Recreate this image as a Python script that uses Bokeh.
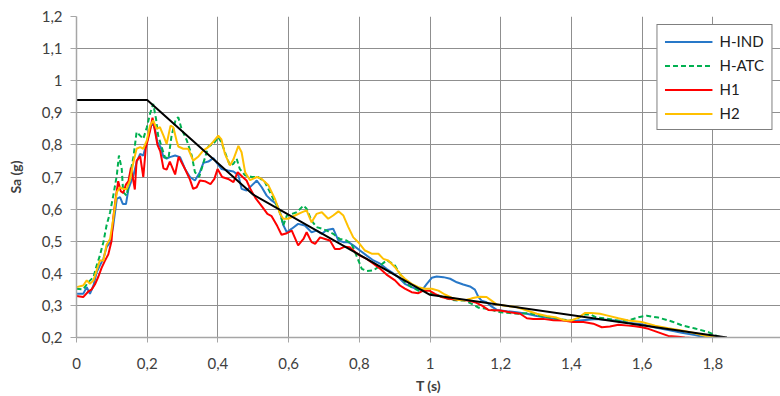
from bokeh.plotting import figure
from bokeh.models import Range1d, FixedTicker, CustomJSTickFormatter, Legend, LegendItem
from bokeh.embed import file_html
from bokeh.resources import INLINE

# ---------------- data ----------------
x_ticks = [0, 0.2, 0.4, 0.6, 0.8, 1.0, 1.2, 1.4, 1.6, 1.8, 2.0]
y_ticks = [0.2, 0.3, 0.4, 0.5, 0.6, 0.7, 0.8, 0.9, 1.0, 1.1, 1.2]

series_names = ["H-IND", "H-ATC", "H1", "H2"]

t_hind = [0.000, 0.019, 0.029, 0.038, 0.048, 0.057, 0.066, 0.076, 0.085, 0.095, 0.104, 0.114, 0.123, 0.131, 0.140,
          0.147, 0.161, 0.170, 0.180, 0.189, 0.199, 0.208, 0.215, 0.222, 0.229, 0.238, 0.246, 0.255, 0.264, 0.279,
          0.293, 0.307, 0.321, 0.335, 0.349, 0.359, 0.373, 0.387, 0.397, 0.410, 0.429, 0.444, 0.458, 0.467, 0.481,
          0.496, 0.510, 0.524, 0.538, 0.552, 0.566, 0.576, 0.585, 0.595, 0.609, 0.627, 0.646, 0.665, 0.679, 0.694,
          0.708, 0.726, 0.741, 0.755, 0.769, 0.783, 0.802, 0.821, 0.840, 0.859, 0.877, 0.892, 0.910, 0.929, 0.948,
          0.967, 0.981, 0.991, 1.005, 1.019, 1.038, 1.057, 1.076, 1.094, 1.113, 1.127, 1.137, 1.146, 1.160, 1.174,
          1.189, 1.217, 1.245, 1.274, 1.302, 1.330, 1.358, 1.387, 1.415, 1.472, 1.533, 1.561, 1.599, 1.637, 1.674,
          1.712, 1.750, 1.778]
sa_hind = [0.336, 0.336, 0.357, 0.336, 0.362, 0.403, 0.424, 0.445, 0.481, 0.497, 0.549, 0.632, 0.637, 0.616, 0.616,
           0.663, 0.705, 0.746, 0.772, 0.767, 0.808, 0.850, 0.871, 0.850, 0.808, 0.793, 0.762, 0.757, 0.762, 0.767,
           0.762, 0.725, 0.700, 0.689, 0.715, 0.744, 0.748, 0.759, 0.744, 0.725, 0.720, 0.717, 0.705, 0.663, 0.658,
           0.674, 0.689, 0.668, 0.642, 0.627, 0.616, 0.590, 0.550, 0.528, 0.539, 0.554, 0.549, 0.528, 0.533, 0.523,
           0.535, 0.539, 0.502, 0.497, 0.497, 0.487, 0.471, 0.455, 0.440, 0.430, 0.414, 0.403, 0.388, 0.367, 0.357,
           0.349, 0.352, 0.367, 0.386, 0.390, 0.388, 0.383, 0.372, 0.365, 0.359, 0.349, 0.326, 0.315, 0.310, 0.297,
           0.286, 0.282, 0.279, 0.274, 0.267, 0.262, 0.257, 0.252, 0.252, 0.258, 0.252, 0.246, 0.241, 0.231, 0.223,
           0.215, 0.208, 0.200]

t_hatc = [0.000, 0.019, 0.033, 0.048, 0.057, 0.066, 0.076, 0.085, 0.095, 0.104, 0.114, 0.120, 0.128, 0.132, 0.142,
          0.151, 0.161, 0.170, 0.180, 0.189, 0.199, 0.208, 0.217, 0.225, 0.231, 0.241, 0.250, 0.260, 0.269, 0.281,
          0.288, 0.297, 0.312, 0.326, 0.335, 0.347, 0.359, 0.373, 0.387, 0.401, 0.410, 0.420, 0.434, 0.444, 0.453,
          0.462, 0.477, 0.496, 0.514, 0.533, 0.552, 0.571, 0.578, 0.585, 0.595, 0.609, 0.623, 0.642, 0.651, 0.665,
          0.679, 0.694, 0.708, 0.726, 0.745, 0.764, 0.778, 0.792, 0.807, 0.821, 0.840, 0.859, 0.877, 0.887, 0.901,
          0.915, 0.929, 0.948, 0.967, 0.986, 1.005, 1.024, 1.042, 1.061, 1.080, 1.099, 1.118, 1.137, 1.156, 1.174,
          1.198, 1.226, 1.255, 1.283, 1.311, 1.340, 1.368, 1.396, 1.415, 1.434, 1.453, 1.472, 1.500, 1.533, 1.561,
          1.590, 1.613, 1.646, 1.684, 1.712, 1.750, 1.787, 1.815, 1.834]
sa_hatc = [0.352, 0.350, 0.372, 0.388, 0.424, 0.455, 0.497, 0.549, 0.590, 0.642, 0.705, 0.767, 0.725, 0.653, 0.642,
           0.705, 0.762, 0.840, 0.829, 0.819, 0.855, 0.897, 0.928, 0.881, 0.829, 0.793, 0.762, 0.757, 0.829, 0.881,
           0.886, 0.850, 0.814, 0.767, 0.715, 0.700, 0.744, 0.795, 0.803, 0.824, 0.808, 0.777, 0.736, 0.741, 0.757,
           0.725, 0.705, 0.700, 0.700, 0.684, 0.642, 0.601, 0.580, 0.549, 0.580, 0.585, 0.590, 0.611, 0.601, 0.564,
           0.544, 0.539, 0.533, 0.523, 0.507, 0.502, 0.492, 0.455, 0.414, 0.407, 0.409, 0.424, 0.440, 0.435, 0.424,
           0.398, 0.372, 0.357, 0.346, 0.346, 0.338, 0.331, 0.324, 0.317, 0.315, 0.315, 0.305, 0.293, 0.290, 0.286,
           0.279, 0.276, 0.274, 0.276, 0.267, 0.262, 0.257, 0.253, 0.257, 0.272, 0.272, 0.262, 0.259, 0.252, 0.253,
           0.263, 0.268, 0.262, 0.250, 0.238, 0.228, 0.217, 0.203, 0.199]

t_h1 = [0.000, 0.019, 0.034, 0.043, 0.052, 0.062, 0.071, 0.080, 0.090, 0.099, 0.104, 0.111, 0.118, 0.125, 0.132,
        0.140, 0.147, 0.154, 0.161, 0.165, 0.170, 0.180, 0.189, 0.196, 0.208, 0.215, 0.222, 0.229, 0.237, 0.246,
        0.255, 0.264, 0.279, 0.289, 0.297, 0.307, 0.321, 0.330, 0.340, 0.349, 0.363, 0.379, 0.390, 0.399, 0.412,
        0.429, 0.444, 0.456, 0.470, 0.481, 0.493, 0.506, 0.526, 0.540, 0.552, 0.568, 0.580, 0.595, 0.609, 0.627,
        0.642, 0.651, 0.665, 0.675, 0.689, 0.703, 0.717, 0.731, 0.745, 0.759, 0.773, 0.788, 0.802, 0.821, 0.840,
        0.859, 0.877, 0.901, 0.915, 0.929, 0.948, 0.967, 0.981, 0.998, 1.014, 1.033, 1.052, 1.071, 1.090, 1.108,
        1.127, 1.146, 1.165, 1.198, 1.226, 1.255, 1.274, 1.292, 1.320, 1.349, 1.377, 1.405, 1.434, 1.462, 1.486,
        1.509, 1.533, 1.561, 1.580, 1.599, 1.618, 1.646, 1.674, 1.702, 1.721, 1.750]
sa_h1 = [0.329, 0.326, 0.344, 0.350, 0.365, 0.390, 0.417, 0.438, 0.459, 0.500, 0.573, 0.635, 0.687, 0.656, 0.650,
         0.677, 0.687, 0.729, 0.687, 0.661, 0.750, 0.765, 0.700, 0.790, 0.843, 0.885, 0.843, 0.800, 0.780, 0.727,
         0.723, 0.748, 0.708, 0.763, 0.746, 0.725, 0.692, 0.663, 0.668, 0.689, 0.687, 0.678, 0.694, 0.725, 0.700,
         0.694, 0.684, 0.715, 0.700, 0.689, 0.660, 0.635, 0.606, 0.585, 0.578, 0.547, 0.520, 0.525, 0.533, 0.487,
         0.507, 0.528, 0.497, 0.492, 0.512, 0.507, 0.502, 0.476, 0.476, 0.483, 0.481, 0.466, 0.455, 0.445, 0.430,
         0.414, 0.396, 0.378, 0.362, 0.352, 0.341, 0.338, 0.346, 0.346, 0.336, 0.326, 0.321, 0.318, 0.317, 0.315,
         0.310, 0.300, 0.286, 0.284, 0.279, 0.274, 0.260, 0.258, 0.258, 0.254, 0.253, 0.248, 0.248, 0.243, 0.232,
         0.234, 0.240, 0.237, 0.235, 0.232, 0.227, 0.216, 0.205, 0.202, 0.200, 0.198]

t_h2 = [0.000, 0.019, 0.029, 0.038, 0.048, 0.057, 0.066, 0.076, 0.085, 0.095, 0.104, 0.114, 0.123, 0.132, 0.142,
        0.151, 0.161, 0.170, 0.180, 0.189, 0.199, 0.208, 0.217, 0.227, 0.236, 0.246, 0.255, 0.266, 0.274, 0.283,
        0.288, 0.302, 0.316, 0.330, 0.345, 0.359, 0.373, 0.387, 0.401, 0.410, 0.420, 0.434, 0.444, 0.458, 0.467,
        0.477, 0.491, 0.510, 0.524, 0.543, 0.562, 0.576, 0.585, 0.599, 0.618, 0.637, 0.651, 0.665, 0.679, 0.694,
        0.712, 0.726, 0.741, 0.755, 0.769, 0.783, 0.797, 0.816, 0.835, 0.854, 0.868, 0.882, 0.901, 0.915, 0.929,
        0.948, 0.967, 0.986, 1.005, 1.024, 1.042, 1.061, 1.080, 1.099, 1.118, 1.140, 1.160, 1.174, 1.189, 1.217,
        1.245, 1.274, 1.302, 1.330, 1.358, 1.382, 1.400, 1.420, 1.438, 1.457, 1.481, 1.500, 1.533, 1.561, 1.599,
        1.637, 1.674, 1.712, 1.750, 1.787, 1.815]
sa_h2 = [0.357, 0.362, 0.378, 0.367, 0.378, 0.409, 0.440, 0.440, 0.489, 0.507, 0.570, 0.653, 0.668, 0.663, 0.663,
         0.689, 0.746, 0.788, 0.793, 0.788, 0.814, 0.860, 0.876, 0.850, 0.855, 0.829, 0.803, 0.860, 0.855, 0.814,
         0.795, 0.788, 0.788, 0.751, 0.764, 0.783, 0.793, 0.810, 0.829, 0.817, 0.772, 0.736, 0.755, 0.797, 0.777,
         0.715, 0.690, 0.700, 0.694, 0.674, 0.630, 0.585, 0.570, 0.570, 0.580, 0.590, 0.596, 0.559, 0.585, 0.590,
         0.570, 0.580, 0.593, 0.580, 0.544, 0.512, 0.497, 0.471, 0.461, 0.461, 0.445, 0.440, 0.419, 0.398, 0.383,
         0.367, 0.357, 0.352, 0.352, 0.346, 0.334, 0.324, 0.317, 0.316, 0.322, 0.327, 0.326, 0.315, 0.303, 0.298,
         0.295, 0.284, 0.274, 0.267, 0.262, 0.253, 0.253, 0.262, 0.276, 0.276, 0.274, 0.269, 0.260, 0.253, 0.248,
         0.237, 0.229, 0.222, 0.213, 0.203, 0.199]

t_code = [0.0, 0.2, 0.5, 1.0, 1.84]
sa_code = [0.94, 0.94, 0.645, 0.333, 0.2]

# ---------------- figure ----------------
FONT = "Lato"
TXT = "#404040"

p = figure(width=780, height=396, output_backend="svg", toolbar_location=None,
           x_range=Range1d(0, 704 / 353.5), y_range=Range1d(0.2, 1.2),
           min_border_left=76, min_border_right=0, min_border_top=16, min_border_bottom=59)
p.outline_line_color = None
p.background_fill_color = "white"
p.border_fill_color = "white"

fmt = CustomJSTickFormatter(code="return tick.toFixed(1).replace('.', ',').replace(/,0$/, '');")

xa = p.xaxis[0]
xa.ticker = FixedTicker(ticks=x_ticks)
xa.formatter = fmt
xa.axis_label = "T (s)"
ya = p.yaxis[0]
ya.ticker = FixedTicker(ticks=y_ticks)
ya.formatter = fmt
ya.axis_label = "Sa (g)"

for ax in (xa, ya):
    ax.axis_line_color = "#a6a6a6"
    ax.axis_line_width = 1.5
    ax.major_tick_line_color = "#a6a6a6"
    ax.major_tick_line_width = 1
    ax.major_tick_in = 0
    ax.minor_tick_line_color = None
    ax.major_label_text_font = FONT
    ax.major_label_text_font_size = "15px"
    ax.major_label_text_color = TXT
    ax.axis_label_text_font = FONT
    ax.axis_label_text_font_size = "14px"
    ax.axis_label_text_font_style = "bold"
    ax.axis_label_text_color = TXT

xa.major_tick_out = 5
xa.major_label_standoff = 15
xa.axis_label_standoff = 5
ya.major_tick_out = 6
ya.major_label_standoff = 8
ya.axis_label_standoff = 15

p.xgrid.ticker = FixedTicker(ticks=x_ticks)
p.ygrid.ticker = FixedTicker(ticks=y_ticks)
for g in (p.xgrid[0], p.ygrid[0]):
    g.grid_line_color = "#8f8f8f"
    g.grid_line_width = 1

r_hind = p.line(t_hind, sa_hind, line_color="#2878c8", line_width=2)
r_hatc = p.line(t_hatc, sa_hatc, line_color="#00b050", line_width=2, line_dash="5 3")
r_h1 = p.line(t_h1, sa_h1, line_color="#ff0000", line_width=2)
r_h2 = p.line(t_h2, sa_h2, line_color="#ffc000", line_width=2)
p.line(t_code, sa_code, line_color="black", line_width=2)

legend = Legend(items=[LegendItem(label=n, renderers=[r]) for n, r in
                       zip(series_names, [r_hind, r_hatc, r_h1, r_h2])],
                location="top_right", margin=8, padding=7, spacing=6,
                glyph_width=48, glyph_height=17, label_height=17, label_standoff=7,
                label_text_font=FONT, label_text_font_size="15px", label_text_color="#202020",
                border_line_color="black", border_line_width=1,
                background_fill_color="white", background_fill_alpha=1.0)
p.add_layout(legend, "center")

open("out.html", "w").write(file_html(p, INLINE))
